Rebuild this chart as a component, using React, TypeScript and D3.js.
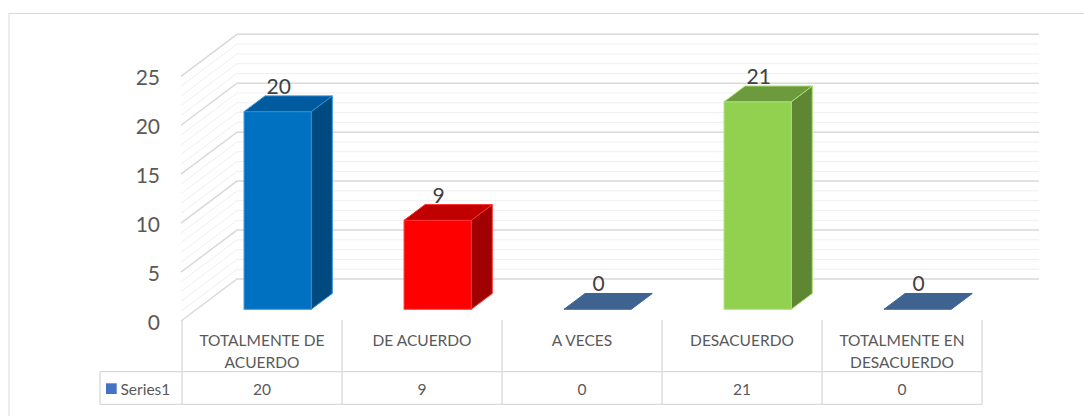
import React from 'react';
import * as d3 from 'd3';

const categories = ['TOTALMENTE DE ACUERDO', 'DE ACUERDO', 'A VECES', 'DESACUERDO', 'TOTALMENTE EN DESACUERDO'];
const categoryLines = [['TOTALMENTE DE', 'ACUERDO'], ['DE ACUERDO'], ['A VECES'], ['DESACUERDO'], ['TOTALMENTE EN', 'DESACUERDO']];
const values = [20, 9, 0, 21, 0];
const seriesName = 'Series1';
const yTicks = [0, 5, 10, 15, 20, 25];
const minorTicks = d3.range(0, 26);

// front / side / top / edge shades for each column
const barFaces = [
  ['#0070C0', '#004A80', '#005A9E', '#2E8EDC'],
  ['#FF0000', '#A00000', '#C00000', '#FF3030'],
  ['#4472C4', '#2F4F88', '#3F6390', '#4A78C0'],
  ['#92D050', '#5F8733', '#6E9A3E', '#A8E070'],
  ['#4472C4', '#2F4F88', '#3F6390', '#4A78C0'],
];

const font = 'Lato, "Open Sans", sans-serif';

export default function App() {
  const width = 1084;
  const height = 416;

  // oblique projection: going to the back moves right DX and up DY
  const DX = 56;
  const DY = 42;
  const wallLeft = 237;
  const wallRight = 1039;
  const d0 = 0.28;
  const d1 = 0.655;

  const yBack = d3.scaleLinear().domain([0, 25]).range([279, 34.3]);
  const barH = d3.scaleLinear().domain([0, 25]).range([0, 247]);
  const floorFront = yBack(0) + DY;

  const x = d3.scaleBand<string>().domain(categories).range([182, 982]).padding(0);
  const bw = x.bandwidth() * 0.42;

  const tableTop = 320;
  const rowMid = 371.7;
  const tableBottom = 404.3;
  const legendLeft = 100;

  return (
    <svg width={width} height={height} style={{ position: 'absolute', left: 0, top: 0 }} fontFamily={font}>
      <rect x={0} y={0} width={width} height={height} fill="#fff" />
      <rect x={9} y={13.5} width={width} height={height} fill="none" stroke="#d9d9d9" strokeWidth={1} />

      {/* walls: minor then major gridlines */}
      {minorTicks.filter(v => v % 5 !== 0).map(v => (
        <g key={'m' + v} stroke="#efefef" strokeWidth={1} fill="none">
          <polyline points={`${wallLeft - DX},${yBack(v) + DY} ${wallLeft},${yBack(v)} ${wallRight},${yBack(v)}`} />
        </g>
      ))}
      {yTicks.map(v => (
        <g key={'M' + v} stroke="#d9d9d9" strokeWidth={1.5} fill="none">
          <polyline points={`${wallLeft - DX},${yBack(v) + DY} ${wallLeft},${yBack(v)} ${wallRight},${yBack(v)}`} />
        </g>
      ))}

      {/* y axis labels */}
      {yTicks.map(v => (
        <text key={'t' + v} x={160} y={yBack(v) + DY} textAnchor="end" dominantBaseline="central"
          fontSize={21} fill="#595959">{v}</text>
      ))}

      {/* bars */}
      {categories.map((c, i) => {
        const v = values[i];
        const [front, side, top, edge] = barFaces[i];
        const fx = (x(c) as number) + x.bandwidth() / 2 + DX * d0 - bw / 2;
        const fb = floorFront - DY * d0;
        const ft = fb - barH(v);
        const ox = DX * (d1 - d0);
        const oy = DY * (d1 - d0);
        const topFace = `${fx},${ft} ${fx + bw},${ft} ${fx + bw + ox},${ft - oy} ${fx + ox},${ft - oy}`;
        return (
          <g key={c}>
            {v > 0 && (
              <>
                <polygon points={`${fx + bw},${fb} ${fx + bw + ox},${fb - oy} ${fx + bw + ox},${ft - oy} ${fx + bw},${ft}`}
                  fill={side} stroke={edge} strokeWidth={1} strokeLinejoin="round" />
                <rect x={fx} y={ft} width={bw} height={fb - ft} fill={front} stroke={edge} strokeWidth={1} />
              </>
            )}
            <polygon points={topFace} fill={top} stroke={v > 0 ? edge : top} strokeWidth={1} strokeLinejoin="round" />
            <text x={fx + bw / 2 + 1} y={ft - oy - 2} textAnchor="middle" fontSize={21} fill="#404040">{v}</text>
          </g>
        );
      })}

      {/* data table */}
      <g stroke="#d9d9d9" strokeWidth={1.3}>
        {[...categories.map(c => x(c) as number), 982].map((xx, i) => (
          <line key={'v' + i} x1={xx} x2={xx} y1={tableTop} y2={tableBottom} />
        ))}
        <line x1={legendLeft} x2={legendLeft} y1={rowMid} y2={tableBottom} />
        <line x1={legendLeft} x2={982} y1={rowMid} y2={rowMid} />
        <line x1={legendLeft} x2={982} y1={tableBottom} y2={tableBottom} />
      </g>
      {categories.map((c, i) => (
        <g key={'h' + c}>
          {categoryLines[i].map((ln, j) => (
            <text key={j} x={(x(c) as number) + x.bandwidth() / 2} y={340 + j * 21.7} textAnchor="middle"
              dominantBaseline="central" fontSize={15.5} fill="#595959">{ln}</text>
          ))}
          <text x={(x(c) as number) + x.bandwidth() / 2} y={388.5} textAnchor="middle" dominantBaseline="central"
            fontSize={15.5} fill="#595959">{values[i]}</text>
        </g>
      ))}
      <rect x={106} y={383.3} width={10.7} height={10.7} fill="#4472C4" />
      <text x={120.5} y={388.5} dominantBaseline="central" fontSize={15.5} fill="#595959">{seriesName}</text>
    </svg>
  );
}
